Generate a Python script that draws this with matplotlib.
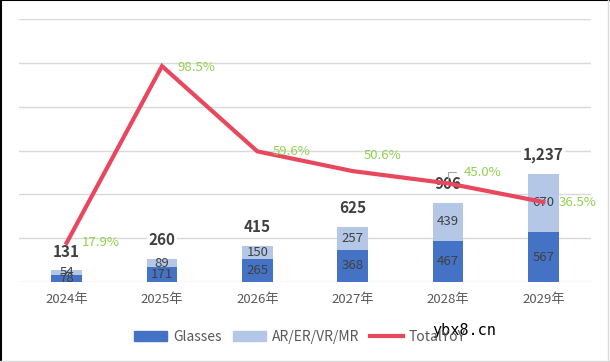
import matplotlib
matplotlib.use("Agg")
import matplotlib.pyplot as plt
from matplotlib.lines import Line2D
import numpy as np

plt.rcParams["font.family"] = ["Noto Sans CJK SC", "DejaVu Sans"]

years = ["2024年", "2025年", "2026年", "2027年", "2028年", "2029年"]
glasses = [78, 171, 265, 368, 467, 567]
ar_vr = [54, 89, 150, 257, 439, 670]
totals = [131, 260, 415, 625, 906, 1237]
yoy = [0.179, 0.985, 0.596, 0.506, 0.450, 0.365]
yoy_offsets = [(11, 0), (11, -1), (11, 0), (8, 11), (11, 8), (11, 0)]

C_GL = "#4472C4"
C_AR = "#B4C7E7"
C_LINE = "#E8475D"
C_PCT = "#92D050"
C_TXT = "#404040"

fig = plt.figure(figsize=(6.1, 3.62), dpi=100)
ax = fig.add_axes([19 / 610, 80 / 362, 572 / 610, 263 / 362])
x = np.arange(len(years))

ax.bar(x, glasses, width=0.32, color=C_GL, zorder=2)
ax.bar(x, ar_vr, width=0.32, bottom=glasses, color=C_AR, zorder=2)
ax.set_xlim(-0.5, 5.5)
ax.set_ylim(0, 3000)
ax.set_yticks(np.arange(0, 3001, 500))
ax.yaxis.grid(True, color="#D9D9D9", lw=1)
ax.set_axisbelow(True)
ax.set_xticks(x)
ax.set_xticklabels(years)
for s in ax.spines.values():
    s.set_visible(False)

for i in x:
    ax.text(i, glasses[i] / 2, str(glasses[i]), ha="center", va="center",
            fontsize=9.5, color=C_TXT, zorder=3)
    ax.text(i, glasses[i] + ar_vr[i] / 2, str(ar_vr[i]), ha="center", va="center",
            fontsize=9.5, color=C_TXT, zorder=3)
    ax.annotate(f"{totals[i]:,}", (i, totals[i]), xytext=(0, 13.5),
                textcoords="offset points", ha="center", va="center",
                fontsize=11, fontweight="bold", color=C_TXT, zorder=3,
                bbox=dict(boxstyle="square,pad=0.1", fc="white", ec="none"))

ax2 = ax.twinx()
ax2.set_ylim(0, 1.2)
ax2.axis("off")
ax.tick_params(axis="y", left=False, right=False, labelleft=False)
ax.tick_params(axis="x", length=0, pad=8, labelsize=9.5, labelcolor="#595959")
ax2.plot(x, yoy, color=C_LINE, lw=3, zorder=5, solid_joinstyle="miter")
for i in x:
    dx, dy = yoy_offsets[i]
    ax2.annotate(f"{yoy[i]*100:.1f}%", (i, yoy[i]), xytext=(dx, dy),
                 textcoords="offset points", ha="left", va="center",
                 fontsize=9.5, color=C_PCT, zorder=6)
# small leader line of the 45.0% label
ax2.annotate("", (4, 0.45), xytext=(7.5, 8), textcoords="offset points",
             arrowprops=dict(arrowstyle="-", color="#A6A6A6", lw=0.8,
                             connectionstyle="angle,angleA=0,angleB=90,rad=0"))

handles = [plt.Rectangle((0, 0), 1, 1, color=C_GL),
           plt.Rectangle((0, 0), 1, 1, color=C_AR),
           Line2D([], [], color=C_LINE, lw=3)]
fig.legend(handles, ["Glasses", "AR/ER/VR/MR", "TotalYoY"], ncol=3,
           loc="center", bbox_to_anchor=(300 / 610, 1 - 337 / 362),
           frameon=False, fontsize=10, labelcolor="#595959",
           handlelength=2.4, handleheight=0.7, handletextpad=0.4,
           columnspacing=0.8)

fig.text(432 / 610, 1 - 331 / 362, "ybx8.cn", family="DejaVu Sans Mono",
         fontsize=11, color="black", va="center")

fig.add_artist(Line2D([0, 1], [0.999, 0.999], color="black", lw=1.5,
                      transform=fig.transFigure))
fig.add_artist(Line2D([0.001, 0.001], [0, 1], color="black", lw=1.5,
                      transform=fig.transFigure))
fig.add_artist(Line2D([0.996, 0.996], [0, 1], color="#D9D9D9", lw=1,
                      transform=fig.transFigure))
fig.add_artist(Line2D([0, 1], [0.002, 0.002], color="#D9D9D9", lw=1,
                      transform=fig.transFigure))

fig.savefig("out.png", dpi=100)
